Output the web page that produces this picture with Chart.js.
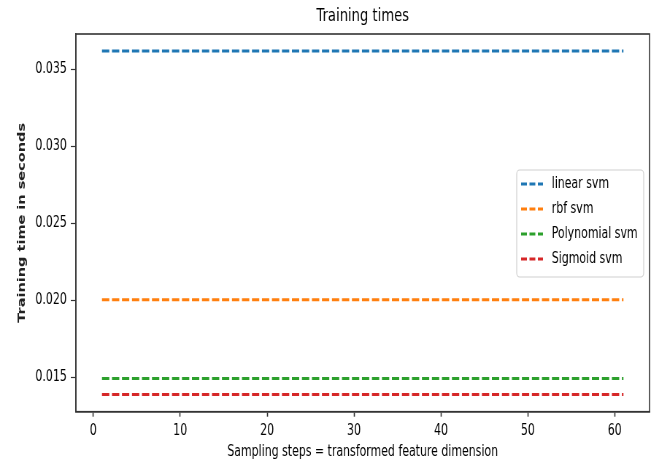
<!DOCTYPE html>
<html>
<head>
<meta charset="utf-8">
<script src="https://cdn.jsdelivr.net/npm/chart.js@4"></script>
<style>
    html, body { margin: 0; padding: 0; background: #fff; overflow: hidden; }
    #wrap { width: 667px; height: 466px; overflow: hidden; }
    /* the reference is a horizontally squeezed matplotlib figure, so draw wide and squeeze */
    #chart { transform: scaleX(0.7298); transform-origin: 0 0; }
</style>
</head>
<body>
<div id="wrap"><canvas id="chart" width="914" height="466"></canvas></div>
<script>
// Sampling steps (first and last), every series is flat over them
const steps = [1, 61];
const linearTimes = [0.03619, 0.03619];
const rbfTimes = [0.02003, 0.02003];
const polyTimes = [0.01491, 0.01491];
const sigmoidTimes = [0.01387, 0.01387];

const seriesNames = ['linear svm', 'rbf svm', 'Polynomial svm', 'Sigmoid svm'];
const seriesColors = ['#1f77b4', '#ff7f0e', '#2ca02c', '#d62728'];
const xTicks = [0, 10, 20, 30, 40, 50, 60];
const yTicks = [0.015, 0.020, 0.025, 0.030, 0.035];

const font = "'DejaVu Sans', sans-serif";

const toPoints = (ys) => steps.map((x, i) => ({ x: x, y: ys[i] }));

const datasets = [linearTimes, rbfTimes, polyTimes, sigmoidTimes].map((ys, i) => ({
    label: seriesNames[i],
    data: toPoints(ys),
    borderColor: seriesColors[i],
    backgroundColor: seriesColors[i],
    borderWidth: 3,
    borderDash: [10, 3.7],
    pointRadius: 0,
    fill: false
}));

// frame round the plot area + legend box inside it (right side, like matplotlib)
const framePlugin = {
    id: 'frame',
    afterDraw(chart) {
        const { ctx, chartArea: a } = chart;
        ctx.save();
        ctx.strokeStyle = '#333';
        ctx.lineWidth = 1.6;
        ctx.strokeRect(a.left, a.top, a.right - a.left, a.bottom - a.top);

        // legend
        const bx = 708, by = 170, bw = 174, bh = 107;
        ctx.fillStyle = 'rgba(255,255,255,0.85)';
        ctx.strokeStyle = '#d0d0d0';
        ctx.lineWidth = 1.2;
        ctx.beginPath();
        ctx.roundRect(bx, by, bw, bh, 4);
        ctx.fill();
        ctx.stroke();

        ctx.font = '15px ' + font;
        ctx.textBaseline = 'middle';
        ctx.textAlign = 'left';
        chart.data.datasets.forEach((ds, i) => {
            const y = 184 + i * 25;
            ctx.strokeStyle = ds.borderColor;
            ctx.lineWidth = 3;
            ctx.setLineDash([8, 3.5]);
            ctx.beginPath();
            ctx.moveTo(714, y);
            ctx.lineTo(744, y);
            ctx.stroke();
            ctx.setLineDash([]);
            ctx.fillStyle = '#000';
            ctx.fillText(ds.label, 756, y);
        });
        ctx.restore();
    }
};

new Chart(document.getElementById('chart'), {
    type: 'line',
    data: { datasets: datasets },
    options: {
        responsive: false,
        animation: false,
        layout: { padding: { left: 0, right: 24, top: 0, bottom: 0 } },
        plugins: {
            legend: { display: false },
            tooltip: { enabled: false },
            title: {
                display: true,
                fullSize: false,
                text: 'Training times',
                color: '#000',
                font: { family: font, size: 18, weight: 'normal' },
                padding: { top: 5.5, bottom: 6.9 }
            }
        },
        scales: {
            x: {
                type: 'linear',
                min: -2,
                max: 64,
                afterBuildTicks: (scale) => { scale.ticks = xTicks.map(v => ({ value: v })); },
                afterFit: (scale) => { scale.height = 54.3; },
                grid: { drawOnChartArea: false, drawTicks: true, tickLength: 5, tickColor: '#333', tickWidth: 1.6 },
                border: { display: true, color: '#333', width: 1.6 },
                ticks: { color: '#000', padding: 5, font: { family: font, size: 15 }, maxRotation: 0 },
                title: {
                    display: true,
                    text: 'Sampling steps = transformed feature dimension',
                    color: '#000',
                    font: { family: font, size: 15 },
                    padding: { top: 0, bottom: 5 }
                }
            },
            y: {
                type: 'linear',
                min: 0.01275,
                max: 0.0373,
                afterBuildTicks: (scale) => { scale.ticks = yTicks.map(v => ({ value: v })); },
                afterFit: (scale) => { scale.width = 104; },
                grid: { drawOnChartArea: false, drawTicks: true, tickLength: 7, tickColor: '#333', tickWidth: 1.2 },
                border: { display: true, color: '#333', width: 1.6 },
                ticks: {
                    color: '#000',
                    padding: 5.5,
                    font: { family: font, size: 15 },
                    callback: (v) => v.toFixed(3)
                },
                title: {
                    display: true,
                    text: 'Training time in seconds',
                    color: '#222',
                    font: { family: font, size: 14.5, weight: 'bold' },
                    padding: { top: 22, bottom: 0 }
                }
            }
        }
    },
    plugins: [framePlugin]
});
</script>
</body>
</html>
